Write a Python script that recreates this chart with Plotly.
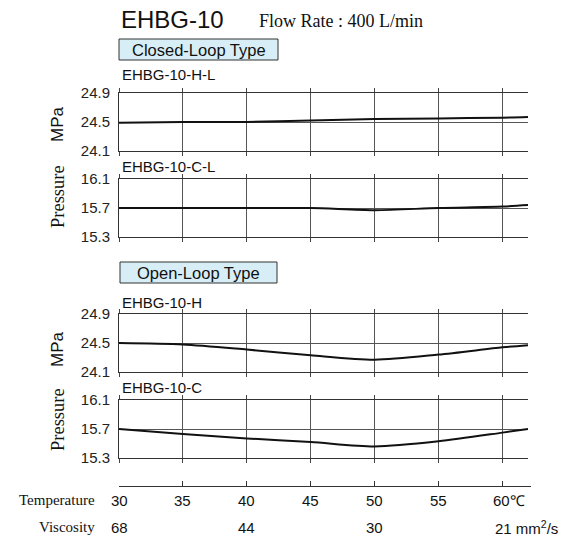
import plotly.graph_objects as go

# ---------------- data ----------------
temperature = [30, 35, 40, 45, 50, 55, 60, 62]
ehbg_10_h_l = [24.49, 24.50, 24.50, 24.52, 24.54, 24.55, 24.56, 24.57]
ehbg_10_c_l = [15.70, 15.70, 15.70, 15.70, 15.67, 15.70, 15.72, 15.74]
ehbg_10_h = [24.50, 24.48, 24.41, 24.33, 24.27, 24.34, 24.44, 24.47]
ehbg_10_c = [15.70, 15.63, 15.57, 15.52, 15.46, 15.53, 15.65, 15.70]

temp_ticks = [30, 35, 40, 45, 50, 55, 60]
temp_labels = ["30", "35", "40", "45", "50", "55", "60℃"]
visc_temps = [30, 40, 50, 60]
visc_labels = ["68", "44", "30", "21 mm<sup>2</sup>/s"]

panel_names = ["EHBG-10-H-L", "EHBG-10-C-L", "EHBG-10-H", "EHBG-10-C"]
panel_series = [ehbg_10_h_l, ehbg_10_c_l, ehbg_10_h, ehbg_10_c]
panel_ticks = [[24.1, 24.5, 24.9], [15.3, 15.7, 16.1], [24.1, 24.5, 24.9], [15.3, 15.7, 16.1]]

# ---------------- layout helpers ----------------
W, H = 565, 539
SANS = "Liberation Sans, Arial, sans-serif"
SERIF = "Liberation Serif, Times New Roman, serif"


def px_x(p):
    return p / W


def px_y(p):
    return 1 - p / H


panel_px = [(93, 151), (179, 237), (314, 372), (400, 458)]
label_px = [75, 167, 302, 387]
x_left, x_right = 119, 528

fig = go.Figure()
layout = dict(
    template="none",
    width=W, height=H, margin=dict(l=0, r=0, t=0, b=0, pad=0), autosize=False,
    paper_bgcolor="white", plot_bgcolor="white", showlegend=False,
    font=dict(family=SANS, size=15, color="#222"),
)

for i, (name, ser, ticks) in enumerate(zip(panel_names, panel_series, panel_ticks)):
    n = i + 1
    top, bot = panel_px[i]
    xa = "xaxis" if n == 1 else f"xaxis{n}"
    ya = "yaxis" if n == 1 else f"yaxis{n}"
    layout[xa] = dict(
        domain=[px_x(x_left), px_x(x_right)], range=[30, 62], anchor=f"y{n}" if n > 1 else "y",
        tickvals=temp_ticks, showticklabels=False, ticks="outside", ticklen=4,
        tickcolor="#444", showline=True, linecolor="#333", linewidth=1, mirror="allticks",
        showgrid=True, gridcolor="#555", gridwidth=1, zeroline=False, automargin=False,
    )
    layout[ya] = dict(
        domain=[px_y(bot), px_y(top)], range=[ticks[0], ticks[2]], anchor=f"x{n}" if n > 1 else "x",
        tickvals=ticks, ticktext=[f"{t:.1f}" for t in ticks], ticks="", ticklabelstandoff=5,
        showline=True, linecolor="#333", linewidth=1, mirror=False,
        showgrid=True, gridcolor="#555", gridwidth=1, zeroline=False, automargin=False,
        tickfont=dict(family=SANS, size=15, color="#222"),
    )
    fig.add_trace(go.Scatter(
        x=temperature, y=ser, mode="lines", xaxis=f"x{n}" if n > 1 else "x",
        yaxis=f"y{n}" if n > 1 else "y",
        line=dict(color="#111", width=2, shape="spline", smoothing=0.8),
        hoverinfo="skip",
    ))

# bottom temperature axis
layout["xaxis5"] = dict(
    domain=[px_x(x_left), px_x(x_right + 3)], range=[30, 62.23], anchor="y5",
    tickvals=temp_ticks, showticklabels=False, ticks="inside", ticklen=5, tickcolor="#333",
    showline=True, linecolor="#333", linewidth=1.3, showgrid=False, zeroline=False, automargin=False,
)
layout["yaxis5"] = dict(domain=[px_y(486), px_y(478)], visible=False, range=[0, 1], anchor="x5",
                        automargin=False)
fig.add_trace(go.Scatter(x=[30], y=[2], xaxis="x5", yaxis="y5", mode="markers",
                         marker=dict(opacity=0), hoverinfo="skip"))

annotations = []
shapes = []

# titles
annotations.append(dict(text="EHBG-10", x=px_x(119), y=px_y(20), xref="paper", yref="paper",
                        xanchor="left", yanchor="middle", showarrow=False,
                        font=dict(family=SANS, size=24, color="#111")))
annotations.append(dict(text="Flow Rate : 400 L/min", x=px_x(257), y=px_y(21), xref="paper", yref="paper",
                        xanchor="left", yanchor="middle", showarrow=False,
                        font=dict(family=SERIF, size=18, color="#111")))

# type boxes
for txt, (x0, x1, y0, y1) in [("Closed-Loop Type", (119, 278, 39, 60)),
                               ("Open-Loop Type", (120, 277, 262, 283))]:
    shapes.append(dict(type="rect", xref="paper", yref="paper",
                       x0=px_x(x0), x1=px_x(x1), y0=px_y(y1), y1=px_y(y0),
                       line=dict(color="#333", width=1), fillcolor="#d8eef7"))
    annotations.append(dict(text=txt, x=px_x((x0 + x1) / 2), y=px_y((y0 + y1) / 2 + 0.5),
                            xref="paper", yref="paper", xanchor="center", yanchor="middle",
                            showarrow=False, font=dict(family=SANS, size=16.5, color="#111")))

# panel names
for name, yp in zip(panel_names, label_px):
    annotations.append(dict(text=name, x=px_x(120), y=px_y(yp), xref="paper", yref="paper",
                            xanchor="left", yanchor="middle", showarrow=False,
                            font=dict(family=SANS, size=15, color="#111")))

# y-axis titles
for mpa_y, pres_y in [(124, 197), (349, 420)]:
    annotations.append(dict(text="MPa", x=px_x(57), y=px_y(mpa_y), xref="paper", yref="paper",
                            xanchor="center", yanchor="middle", textangle=-90, showarrow=False,
                            font=dict(family=SANS, size=17, color="#111")))
    annotations.append(dict(text="Pressure", x=px_x(58), y=px_y(pres_y), xref="paper", yref="paper",
                            xanchor="center", yanchor="middle", textangle=-90, showarrow=False,
                            font=dict(family=SERIF, size=18.5, color="#111")))

# bottom labels
annotations.append(dict(text="Temperature", x=px_x(97), y=px_y(500), xref="paper", yref="paper",
                        xanchor="right", yanchor="middle", showarrow=False,
                        font=dict(family=SERIF, size=15, color="#111")))
annotations.append(dict(text="Viscosity", x=px_x(97), y=px_y(527), xref="paper", yref="paper",
                        xanchor="right", yanchor="middle", showarrow=False,
                        font=dict(family=SERIF, size=15, color="#111")))
for t, lab in zip(temp_ticks, temp_labels):
    shift = 7 if "℃" in lab else 0
    annotations.append(dict(text=lab, x=t, y=px_y(500), xref="x5", yref="paper",
                            xanchor="center", yanchor="middle", xshift=shift, showarrow=False,
                            font=dict(family=SANS, size=15, color="#111")))
for t, lab in zip(visc_temps, visc_labels):
    anchor = "left" if "mm" in lab else "center"
    shift = -9 if anchor == "left" else 0
    annotations.append(dict(text=lab, x=t, y=px_y(527), xref="x5", yref="paper",
                            xanchor=anchor, yanchor="middle", xshift=shift, showarrow=False,
                            font=dict(family=SANS, size=15, color="#111")))

layout["annotations"] = annotations
layout["shapes"] = shapes
fig.update_layout(**layout)
fig.write_html("out.html", config={"displayModeBar": False, "staticPlot": True},
               post_script="document.body.style.margin='0';document.body.style.overflow='hidden';")
